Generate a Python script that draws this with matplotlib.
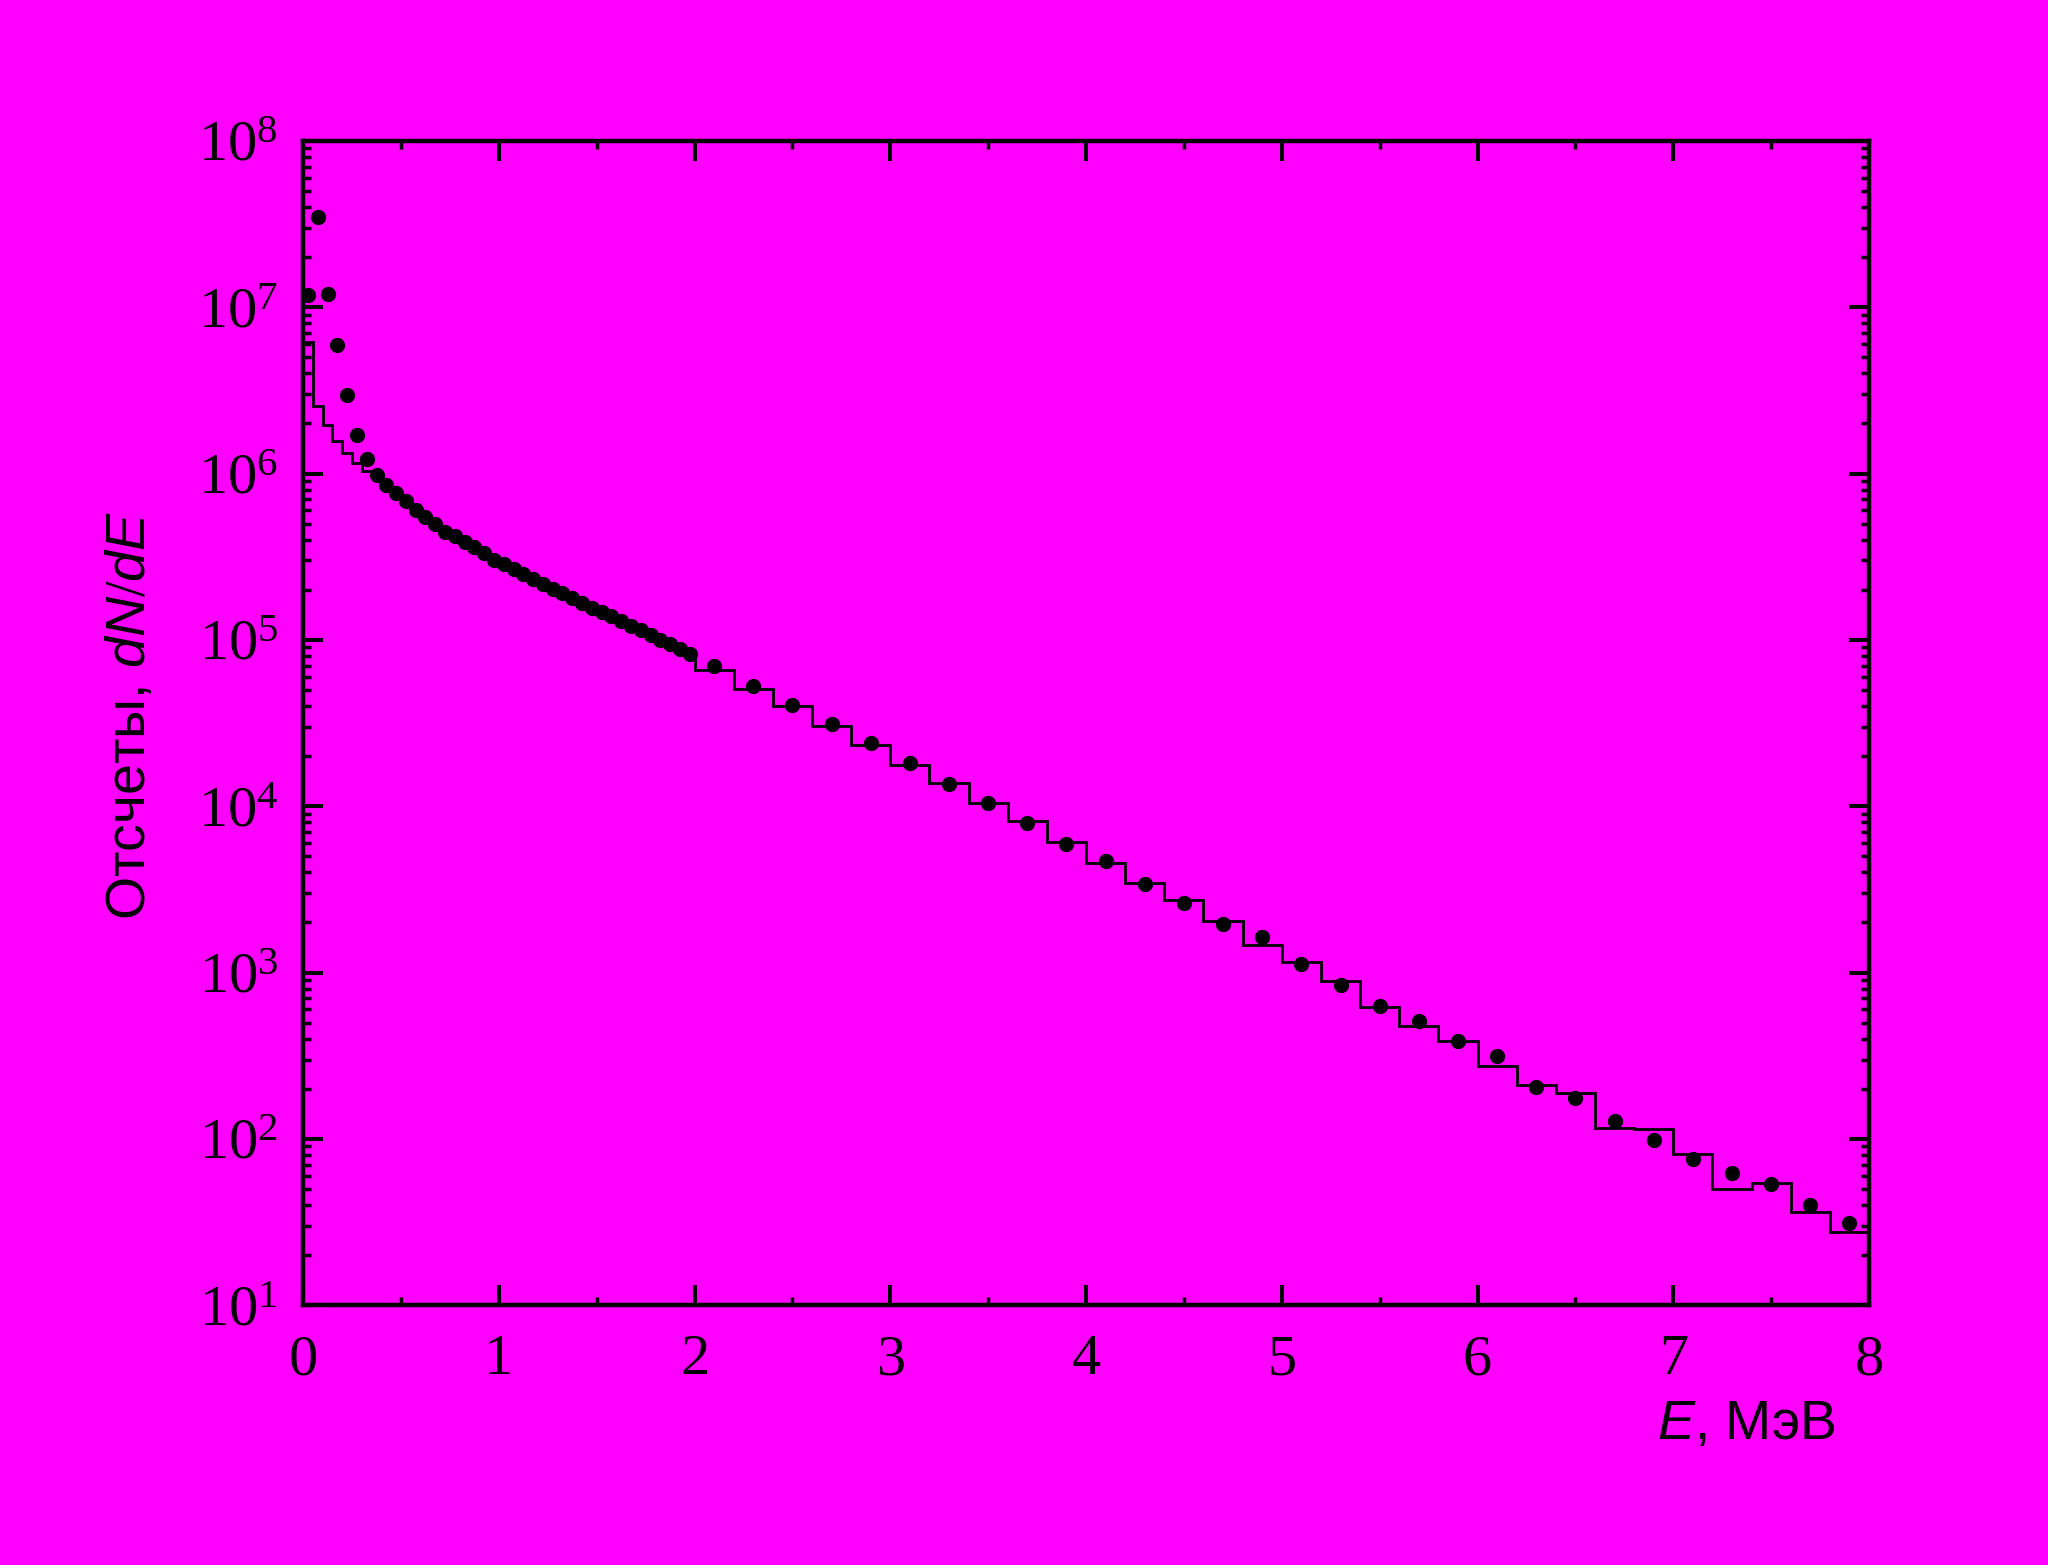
import math
import matplotlib
matplotlib.use("Agg")
from matplotlib import pyplot as plt
from matplotlib.ticker import LogLocator, MultipleLocator, FuncFormatter, NullFormatter

# histogram bin edges (MeV): 0.05 wide up to 2, then 0.2 wide
edges = [0.00, 0.05, 0.10, 0.15, 0.20, 0.25, 0.30, 0.35, 0.40, 0.45,
         0.50, 0.55, 0.60, 0.65, 0.70, 0.75, 0.80, 0.85, 0.90, 0.95,
         1.00, 1.05, 1.10, 1.15, 1.20, 1.25, 1.30, 1.35, 1.40, 1.45,
         1.50, 1.55, 1.60, 1.65, 1.70, 1.75, 1.80, 1.85, 1.90, 1.95,
         2.0, 2.2, 2.4, 2.6, 2.8, 3.0, 3.2, 3.4, 3.6, 3.8,
         4.0, 4.2, 4.4, 4.6, 4.8, 5.0, 5.2, 5.4, 5.6, 5.8,
         6.0, 6.2, 6.4, 6.6, 6.8, 7.0, 7.2, 7.4, 7.6, 7.8, 8.0]

# calculated spectrum (step line)
hist = [6.2e6, 2.55e6, 1.97e6, 1.56e6, 1.33e6, 1.16e6, 1.03e6, 9.4e5, 8.2e5, 7.3e5,
        6.55e5, 5.8e5, 5.25e5, 4.75e5, 4.3e5, 4.05e5, 3.7e5, 3.46e5, 3.2e5, 2.9e5,
        2.74e5, 2.56e5, 2.39e5, 2.22e5, 2.08e5, 1.95e5, 1.83e5, 1.71e5, 1.6e5, 1.5e5,
        1.42e5, 1.33e5, 1.24e5, 1.16e5, 1.09e5, 1.03e5, 9.6e4, 9.0e4, 8.45e4, 7.9e4,
        6.58e4, 5.1e4, 3.98e4, 3.02e4, 2.32e4, 1.77e4, 1.37e4, 1.04e4, 8.1e3, 6.08e3,
        4.54e3, 3.43e3, 2.72e3, 2.03e3, 1.46e3, 1.15e3, 884, 617, 480, 388,
        276, 210, 188, 117, 114, 81, 49.7, 54.5, 36.1, 27.6]

# measured points
e_pts = [0.025, 0.075, 0.125, 0.175, 0.225, 0.275, 0.325, 0.375, 0.425, 0.475,
         0.525, 0.575, 0.625, 0.675, 0.725, 0.775, 0.825, 0.875, 0.925, 0.975,
         1.025, 1.075, 1.125, 1.175, 1.225, 1.275, 1.325, 1.375, 1.425, 1.475,
         1.525, 1.575, 1.625, 1.675, 1.725, 1.775, 1.825, 1.875, 1.925, 1.975,
         2.1, 2.3, 2.5, 2.7, 2.9, 3.1, 3.3, 3.5, 3.7, 3.9,
         4.1, 4.3, 4.5, 4.7, 4.9, 5.1, 5.3, 5.5, 5.7, 5.9,
         6.1, 6.3, 6.5, 6.7, 6.9, 7.1, 7.3, 7.5, 7.7, 7.9]
n_pts = [1.18e7, 3.5e7, 1.2e7, 5.9e6, 2.96e6, 1.70e6, 1.23e6, 9.86e5, 8.55e5, 7.63e5,
         6.84e5, 6.05e5, 5.46e5, 4.95e5, 4.48e5, 4.22e5, 3.86e5, 3.61e5, 3.33e5, 3.02e5,
         2.85e5, 2.67e5, 2.49e5, 2.31e5, 2.17e5, 2.03e5, 1.91e5, 1.78e5, 1.67e5, 1.56e5,
         1.48e5, 1.39e5, 1.29e5, 1.21e5, 1.14e5, 1.07e5, 1.0e5, 9.4e4, 8.8e4, 8.2e4,
         6.95e4, 5.27e4, 4.06e4, 3.12e4, 2.39e4, 1.81e4, 1.36e4, 1.05e4, 7.89e3, 5.92e3,
         4.66e3, 3.40e3, 2.63e3, 1.97e3, 1.63e3, 1.13e3, 840, 628, 513, 387,
         314, 206, 175, 128, 98, 75.5, 62.5, 53.5, 39.9, 31.4]

bg = "#ff00ff"
serif = "Liberation Serif"
sans = "Liberation Sans"
plt.rcParams["mathtext.fontset"] = "custom"
plt.rcParams["mathtext.it"] = "Liberation Sans:italic"
plt.rcParams["mathtext.rm"] = "Liberation Serif"

fig = plt.figure(figsize=(20.48, 15.65), dpi=100, facecolor=bg)
ax = fig.add_axes([0.148, 0.166, 0.7646, 0.744], facecolor=bg)

ax.stairs(hist, edges, baseline=None, color="black", linewidth=2.0)
ax.plot(e_pts, n_pts, "o", color="black", markersize=10, zorder=3)

ax.set_yscale("log")
ax.set_xlim(0, 8)
ax.set_ylim(10, 1e8)
ax.xaxis.set_major_locator(MultipleLocator(1))
ax.xaxis.set_minor_locator(MultipleLocator(0.5))
ax.yaxis.set_major_locator(LogLocator(base=10, numticks=20))
ax.yaxis.set_minor_locator(LogLocator(base=10, subs=[2, 3, 4, 5, 6, 7, 8, 9], numticks=20))
ax.yaxis.set_minor_formatter(NullFormatter())
ax.yaxis.set_major_formatter(FuncFormatter(lambda v, p: r"$\mathregular{10^{%d}}$" % round(math.log10(v))))

for s in ax.spines.values():
    s.set_linewidth(3.2)
ax.tick_params(which="both", direction="in", top=True, right=True, color="black")
ax.tick_params(which="major", length=14.5, width=2.9)
ax.tick_params(which="minor", length=6, width=2.5)
ax.tick_params(axis="x", which="major", pad=21)
ax.tick_params(axis="y", which="major", pad=18)
for lab in ax.get_xticklabels() + ax.get_yticklabels():
    lab.set_fontfamily(serif)
    lab.set_fontsize(42)

fig.text(0.064, 0.543, "Отсчеты, $\\mathit{dN/dE}$", rotation=90, ha="center", va="center",
         fontsize=40, family=sans)
fig.text(0.896, 0.0805, "$\\mathit{E}$, МэВ", ha="right", va="baseline", fontsize=40, family=sans)

fig.savefig("out.png", dpi=100, facecolor=bg)
